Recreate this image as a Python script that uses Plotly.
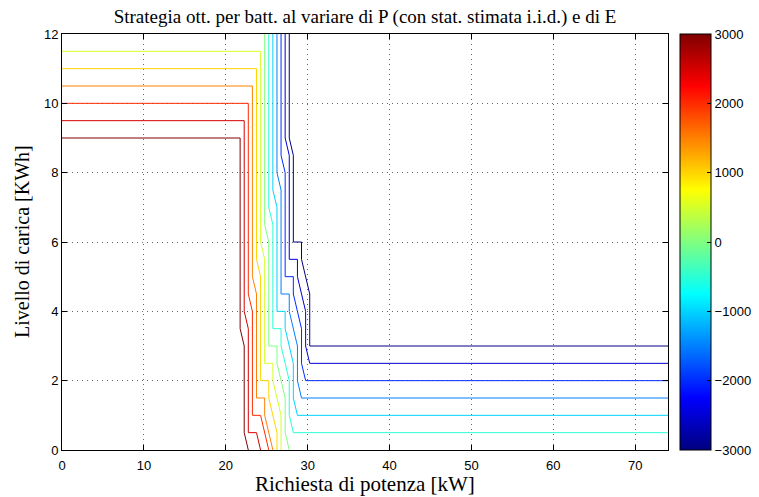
import plotly.graph_objects as go

# Optimal battery-strategy threshold curves, one per value of E.
# P = power request [kW], L = charge level [kWh]
E_levels = [3000, 2500, 2000, 1500, 1000, 500, 0, -500, -1000, -1500, -2000, -2500, -3000]

P_e3000 = [0, 21.75, 21.75, 22.25, 22.25, 22.75]
L_e3000 = [9, 9, 3.5, 3, 0.5, 0]

P_e2500 = [0, 22.25, 22.25, 22.75, 22.75, 23.75, 24.25]
L_e2500 = [9.5, 9.5, 4, 3.5, 0.5, 0.5, 0]

P_e2000 = [0, 22.75, 22.75, 23.25, 23.25, 24.25, 25.25]
L_e2000 = [10, 10, 4.5, 4, 1, 1, 0]

P_e1500 = [0, 23.25, 23.25, 23.75, 23.75, 24.75, 24.75, 25.75]
L_e1500 = [10.5, 10.5, 5, 4.5, 1.5, 1.5, 1, 0]

P_e1000 = [0, 23.75, 23.75, 24.25, 24.25, 25.25, 25.25, 26.25, 26.25]
L_e1000 = [11, 11, 5.5, 5, 2, 2, 1.5, 0.5, 0]

P_e500 = [0, 24.25, 24.25, 24.75, 24.75, 25.75, 25.75, 26.75, 26.75]
L_e500 = [11.5, 11.5, 6, 5.5, 2.5, 2.5, 2, 1, 0]

P_e0 = [24.75, 24.75, 25.25, 25.25, 26.25, 26.25, 27.25, 27.25, 27.75]
L_e0 = [12, 6.5, 6, 3, 3, 2.5, 1.5, 0.5, 0]

P_em500 = [25.25, 25.25, 25.75, 25.75, 26.75, 26.75, 27.75, 27.75, 28.25, 74]
L_em500 = [12, 7, 6.5, 3.5, 3.5, 3, 2, 1, 0.5, 0.5]

P_em1000 = [25.75, 25.75, 26.25, 26.25, 27.25, 27.25, 28.25, 28.25, 28.75, 74]
L_em1000 = [12, 7.5, 7, 4, 4, 3.5, 2.5, 1.5, 1, 1]

P_em1500 = [26.25, 26.25, 26.75, 26.75, 27.75, 27.75, 28.75, 28.75, 29.25, 74]
L_em1500 = [12, 8, 7.5, 4.5, 4.5, 4, 3, 2, 1.5, 1.5]

P_em2000 = [26.75, 26.75, 27.25, 27.25, 28.25, 28.25, 29.25, 29.25, 29.75, 74]
L_em2000 = [12, 8.5, 8, 5, 5, 4.5, 3.5, 2.5, 2, 2]

P_em2500 = [27.25, 27.25, 27.75, 27.75, 28.75, 28.75, 29.75, 29.75, 30.25, 74]
L_em2500 = [12, 9, 8.5, 5.5, 5.5, 5, 4, 3, 2.5, 2.5]

P_em3000 = [27.75, 27.75, 28.25, 28.25, 29.25, 29.25, 30.25, 30.25, 74]
L_em3000 = [12, 9, 8.5, 6, 6, 5.5, 4.5, 3, 3]

curves_P = [P_e3000, P_e2500, P_e2000, P_e1500, P_e1000, P_e500, P_e0,
            P_em500, P_em1000, P_em1500, P_em2000, P_em2500, P_em3000]
curves_L = [L_e3000, L_e2500, L_e2000, L_e1500, L_e1000, L_e500, L_e0,
            L_em500, L_em1000, L_em1500, L_em2000, L_em2500, L_em3000]

E_MIN, E_MAX = -3000, 3000
cbar_ticks = [-3000, -2000, -1000, 0, 1000, 2000, 3000]
x_ticks = [0, 10, 20, 30, 40, 50, 60, 70]
y_ticks = [0, 2, 4, 6, 8, 10, 12]


def jet(t):
    """MATLAB-style jet colormap, t in [0, 1]."""
    def c(v):
        return min(1.0, max(0.0, v))
    r = c(1.5 - abs(4 * t - 3))
    g = c(1.5 - abs(4 * t - 2))
    b = c(1.5 - abs(4 * t - 1))
    return "rgb(%d,%d,%d)" % (round(r * 255), round(g * 255), round(b * 255))


jet_scale = [[i / 64, jet(i / 64)] for i in range(65)]

fig = go.Figure()

for e, xs, ys in zip(E_levels, curves_P, curves_L):
    t = (e - E_MIN) / (E_MAX - E_MIN)
    fig.add_trace(go.Scatter(
        x=xs, y=ys, mode="lines",
        line=dict(color=jet(t), width=1),
        showlegend=False, hoverinfo="skip",
    ))

# colour bar for E
fig.add_trace(go.Scatter(
    x=[None], y=[None], mode="markers", showlegend=False, hoverinfo="skip",
    marker=dict(
        color=[0], colorscale=jet_scale, cmin=E_MIN, cmax=E_MAX, showscale=True,
        colorbar=dict(
            thickness=31, thicknessmode="pixels",
            len=1, lenmode="fraction", y=0.5, yanchor="middle",
            x=680 / 759, xref="container", xanchor="left",
            outlinewidth=1, outlinecolor="black",
            tickvals=cbar_ticks, ticks="inside", ticklen=4, tickcolor="black",
            tickfont=dict(family="Liberation Sans", size=13, color="black"),
            xpad=0, ypad=0,
        ),
    ),
))

axis_common = dict(
    showline=True, linecolor="black", linewidth=1, mirror="ticks",
    ticks="inside", ticklen=5, tickcolor="black",
    showgrid=True, gridcolor="rgba(0,0,0,0.6)", griddash="1px,4px", gridwidth=1,
    zeroline=False, automargin=False,
    tickfont=dict(family="Liberation Sans", size=13, color="black"),
)

fig.update_xaxes(range=[0, 74], tickvals=x_ticks, ticklabelstandoff=3, **axis_common)
fig.update_yaxes(range=[0, 12], tickvals=y_ticks, **axis_common)

# axis titles
fig.add_annotation(
    text="Richiesta di potenza [kW]", showarrow=False,
    xref="paper", yref="paper", x=0.5, y=0, xanchor="center", yanchor="middle",
    yshift=-34, font=dict(family="Liberation Serif", size=21, color="black"),
)
fig.add_annotation(
    text="Livello di carica [KWh]", showarrow=False, textangle=-90,
    xref="paper", yref="paper", x=0, y=0.5, xanchor="center", yanchor="middle",
    xshift=-40, font=dict(family="Liberation Serif", size=20, color="black"),
)

fig.update_layout(
    width=759, height=497,
    margin=dict(l=62, r=91, t=34, b=47),
    paper_bgcolor="white", plot_bgcolor="white",
    title=dict(
        text="Strategia ott. per batt. al variare di P (con stat. stimata i.i.d.) e di E",
        font=dict(family="Liberation Serif", size=19, color="black"),
        x=0.5, xref="paper", xanchor="center",
        y=1 - 16 / 497, yref="container", yanchor="middle",
    ),
)

fig.write_html("out.html")
